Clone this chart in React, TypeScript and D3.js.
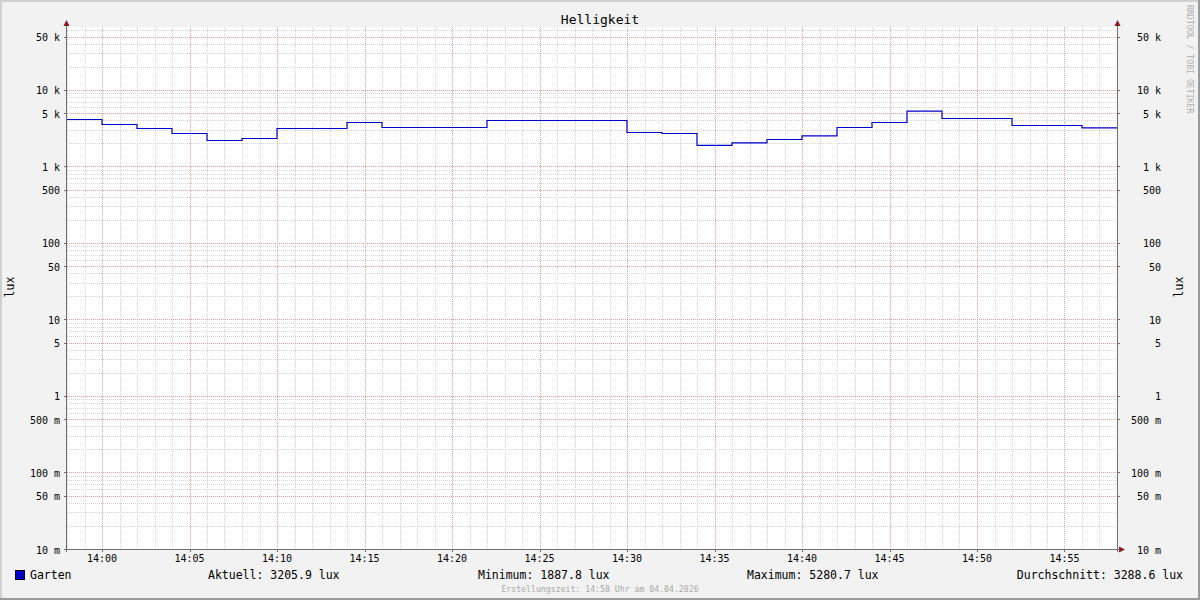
import React from "react";
import * as d3 from "d3";

// ---- data ----
const title = "Helligkeit";
const unitLabel = "lux";
const seriesName = "Garten";
// sample start times (HH:MM), each value holds until the next sample
const sampleTimes = [
  "13:58", "14:00", "14:02", "14:04", "14:06", "14:08", "14:10", "14:12", "14:14", "14:16",
  "14:18", "14:20", "14:22", "14:24", "14:26", "14:28", "14:30", "14:32", "14:34", "14:36",
  "14:38", "14:40", "14:42", "14:44", "14:46", "14:48", "14:50", "14:52", "14:54", "14:56",
];
const sampleValues = [
  4116, 3540, 3140, 2700, 2188, 2323, 3140, 3140, 3758, 3235,
  3235, 3235, 3994, 3994, 3994, 3994, 2782, 2700, 1887.8, 2035,
  2254, 2512, 3235, 3758, 5280.7, 4242, 4242, 3434, 3434, 3205.9,
];
const endTime = "14:58";
const startTime = "13:58";
const yMin = 0.01;
const yMax = 66600;
const yTickValues = [0.01, 0.05, 0.1, 0.5, 1, 5, 10, 50, 100, 500, 1000, 5000, 10000, 50000];
const yTickLabels = ["10 m", "50 m", "100 m", "500 m", "1", "5", "10", "50", "100", "500", "1 k", "5 k", "10 k", "50 k"];
const legendStats = [
  { label: "Aktuell", value: "3205.9 lux" },
  { label: "Minimum", value: "1887.8 lux" },
  { label: "Maximum", value: "5280.7 lux" },
  { label: "Durchschnitt", value: "3288.6 lux" },
];
const footer = "Erstellungszeit: 14:58 Uhr am 04.04.2026";
const watermark = "RRDTOOL / TOBI OETIKER";

const toDate = (hm: string) => {
  const [h, m] = hm.split(":").map(Number);
  return new Date(2026, 3, 4, h, m, 0);
};

export default function App() {
  const W = 1200, H = 600;
  const left = 67, right = 1117, top = 27, bottom = 549;
  const mono = "'DejaVu Sans Mono', monospace";

  const x = d3.scaleTime().domain([toDate(startTime), toDate(endTime)]).range([left, right]);
  const y = d3.scaleLog().domain([yMin, yMax]).range([bottom, top]);

  const pts: [Date, number][] = sampleTimes.map((t, i) => [toDate(t), sampleValues[i]]);
  pts.push([toDate(endTime), sampleValues[sampleValues.length - 1]]);
  const line = d3
    .line<[Date, number]>()
    .x((d) => x(d[0]))
    .y((d) => y(d[1]))
    .curve(d3.curveStepAfter);

  // minor y grid
  const minorY: number[] = [];
  for (let e = -2; e <= 4; e++) {
    for (let k = 1; k <= 9; k++) {
      const v = k * Math.pow(10, e);
      if (v >= yMin && v <= yMax && !yTickValues.includes(v)) minorY.push(v);
    }
  }
  const minutes = d3.timeMinute.range(toDate(startTime), d3.timeMinute.offset(toDate(endTime), 1));
  const majorX = minutes.filter((d) => d.getMinutes() % 5 === 0);
  const minorX = minutes.filter((d) => d.getMinutes() % 5 !== 0);
  const fmt = d3.timeFormat("%H:%M");

  const gridGray = "#d4d4d4";
  const gridRed = "#ec9c9c";
  const axisCol = "#6e6e6e";
  const arrowCol = "#8b1a1a";
  const legendX = [208, 478, 747];
  const py = (v: number) => Math.round(y(v)) + 0.5;
  const px = (d: Date) => Math.round(x(d)) + 0.5;

  return (
    <svg width={W} height={H} style={{ position: "absolute", left: 0, top: 0 }} fontFamily={mono}>
      <rect x={0} y={0} width={W} height={H} fill="#f2f2f2" />
      <line x1={0} y1={1} x2={W} y2={1} stroke="#d0d0d0" strokeWidth={2} />
      <line x1={1} y1={0} x2={1} y2={H} stroke="#d0d0d0" strokeWidth={2} />
      <line x1={0} y1={H - 1} x2={W} y2={H - 1} stroke="#9a9a9a" strokeWidth={2} />
      <line x1={W - 1} y1={0} x2={W - 1} y2={H} stroke="#9a9a9a" strokeWidth={2} />
      <rect x={left} y={top} width={right - left} height={bottom - top} fill="#ffffff" />

      {/* grid */}
      <g strokeWidth={1} strokeDasharray="1,1">
        {minorY.map((v) => (
          <line key={"my" + v} x1={left} x2={right} y1={py(v)} y2={py(v)} stroke={gridGray} />
        ))}
        {minorX.map((d) => (
          <line key={"mx" + d.getTime()} x1={px(d)} x2={px(d)} y1={top} y2={bottom} stroke={gridGray} />
        ))}
        {yTickValues.map((v) => (
          <line key={"My" + v} x1={left} x2={right} y1={py(v)} y2={py(v)} stroke={gridRed} />
        ))}
        {majorX.map((d) => (
          <line key={"Mx" + d.getTime()} x1={px(d)} x2={px(d)} y1={top} y2={bottom} stroke={gridRed} />
        ))}
      </g>

      {/* data */}
      <path d={line(pts) || ""} fill="none" stroke="#0000cc" strokeWidth={1.2} />

      {/* axes */}
      <line x1={left - 0.5} x2={left - 0.5} y1={22} y2={bottom + 3} stroke={axisCol} />
      <line x1={right + 0.5} x2={right + 0.5} y1={22} y2={bottom + 3} stroke={axisCol} />
      <line x1={left - 3} x2={right + 5} y1={bottom + 0.5} y2={bottom + 0.5} stroke={axisCol} />
      <path d={`M${left - 0.5},20 L${left - 3.5},26 L${left + 2.5},26 Z`} fill={arrowCol} />
      <path d={`M${right + 0.5},20 L${right - 2.5},26 L${right + 3.5},26 Z`} fill={arrowCol} />
      <path d={`M${right + 8},${bottom + 0.5} L${right + 2},${bottom - 2.5} L${right + 2},${bottom + 3.5} Z`} fill={arrowCol} />
      {yTickValues.map((v) => (
        <g key={"t" + v}>
          <line x1={left - 3} x2={left} y1={py(v)} y2={py(v)} stroke={axisCol} />
          <line x1={right} x2={right + 3} y1={py(v)} y2={py(v)} stroke={axisCol} />
        </g>
      ))}
      {majorX.map((d) => (
        <line key={"xt" + d.getTime()} x1={px(d)} x2={px(d)} y1={bottom} y2={bottom + 3} stroke={axisCol} />
      ))}

      {/* tick labels */}
      <g fontSize={10} fill="#000">
        {yTickValues.map((v, i) => (
          <text key={"yl" + v} x={60} y={y(v)} dy="0.45em" textAnchor="end">{yTickLabels[i]}</text>
        ))}
        {yTickValues.map((v, i) => (
          <text key={"yr" + v} x={1161} y={y(v)} dy="0.45em" textAnchor="end">{yTickLabels[i]}</text>
        ))}
        {majorX.map((d) => (
          <text key={"xl" + d.getTime()} x={x(d)} y={558} dy="0.4em" textAnchor="middle">{fmt(d)}</text>
        ))}
      </g>

      {/* titles */}
      <text x={600} y={19} dy="0.35em" textAnchor="middle" fontSize={13}>{title}</text>
      <text transform="translate(10,287) rotate(-90)" textAnchor="middle" dy="0.35em" fontSize={11.5}>{unitLabel}</text>
      <text transform="translate(1179,287) rotate(-90)" textAnchor="middle" dy="0.35em" fontSize={11.5}>{unitLabel}</text>
      <text transform="translate(1190,5) rotate(90)" textAnchor="start" dy="0.35em" fontSize={8.2} fill="#b0b0b0">{watermark}</text>

      {/* legend */}
      <rect x={15.5} y={570.5} width={9} height={9} fill="#0000cc" stroke="#000" strokeWidth={1} />
      <g fontSize={11.5} fill="#000">
        <text x={30} y={575} dy="0.35em">{seriesName}</text>
        {legendStats.slice(0, 3).map((s, i) => (
          <text key={s.label} x={legendX[i]} y={575} dy="0.35em">{`${s.label}: ${s.value}`}</text>
        ))}
        <text x={1183} y={575} dy="0.35em" textAnchor="end">{`${legendStats[3].label}: ${legendStats[3].value}`}</text>
      </g>
      <text x={600} y={589} dy="0.35em" textAnchor="middle" fontSize={8.2} fill="#a8a8a8">{footer}</text>
    </svg>
  );
}
